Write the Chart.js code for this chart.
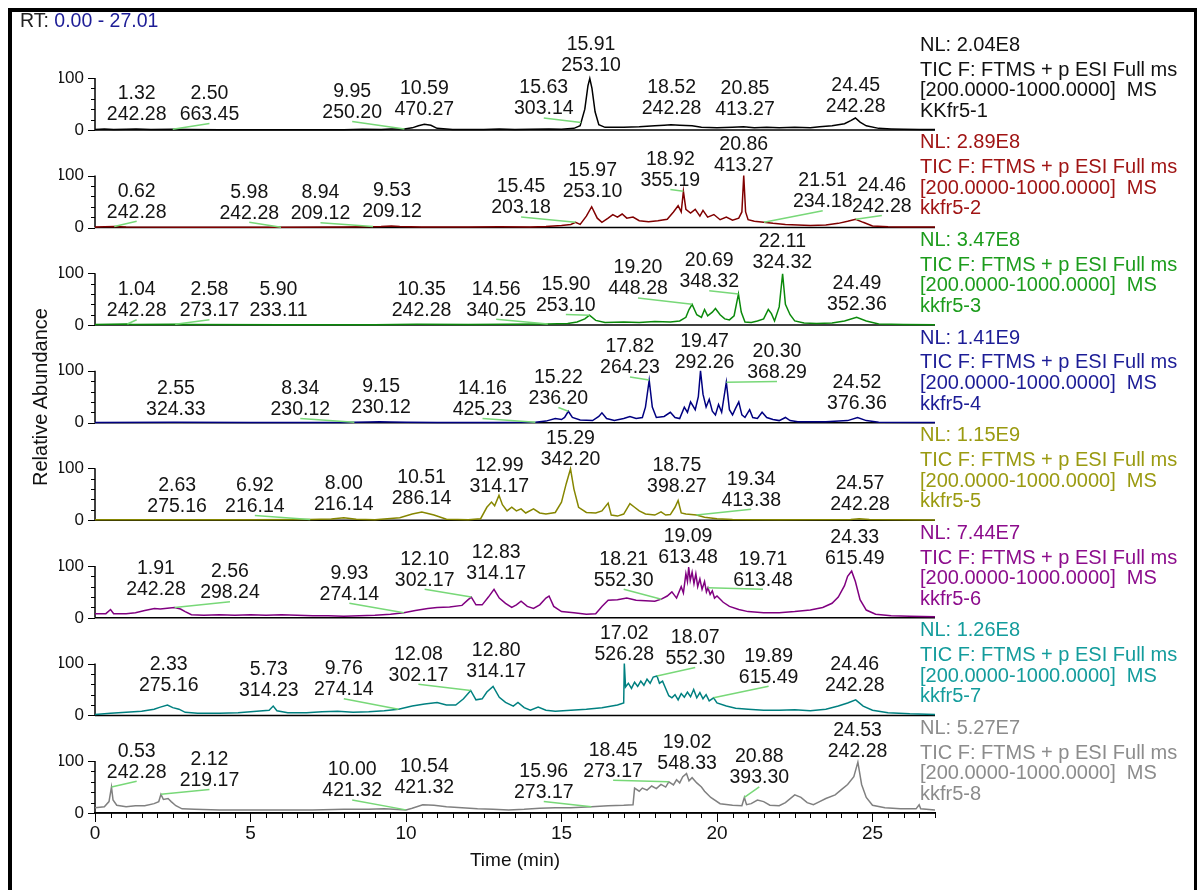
<!DOCTYPE html>
<html>
<head>
<meta charset="utf-8">
<script src="https://cdn.jsdelivr.net/npm/chart.js@4.4.0/dist/chart.umd.min.js"></script>
<style>
body{margin:0;background:#fff;width:1200px;height:890px;overflow:hidden;position:relative;font-family:"Liberation Sans",Arial,sans-serif}
#chart{position:absolute;left:0;top:0}
#frame{position:absolute;left:8px;top:8px;width:1182px;height:900px;border-top:4px solid #000;border-left:4px solid #000;border-right:3px solid #000}
#rt{position:absolute;left:20px;top:9px;font-size:19.5px;color:#222;white-space:nowrap}
#rt span{color:#1c1c96}
.info{position:absolute;left:920px;font-size:20px;line-height:20.6px;white-space:nowrap}
.info .nl{margin-bottom:4.4px}
#ytitle{position:absolute;left:40px;top:397px;transform:translate(-50%,-50%) rotate(-90deg);font-size:20px;color:#111;white-space:nowrap}
</style>
</head>
<body>
<canvas id="chart" width="1200" height="890"></canvas>
<div id="frame"></div>
<div id="rt">RT: <span>0.00 - 27.01</span></div>
<div id="ytitle">Relative Abundance</div>
<div id="info"></div>
<script>
// 各サンプルのTIC（時間[min], 相対強度）
const kkfr5_1 = [[0,1],[0.3,2],[0.6,1],[1.0,1.5],[1.32,2],[1.8,1],[2.5,1.5],[3,1],[4,0.5],[6,0.5],[8,0.5],[8.6,1.5],[9.2,1],[9.5,2],[9.95,2],[10.2,4],[10.4,8],[10.59,11],[10.8,9],[11.0,3],[11.5,1],[12.5,1],[13,2],[13.5,1],[14,1.5],[14.6,2],[15,1.5],[15.4,3],[15.6,8],[15.75,40],[15.85,85],[15.91,99],[15.98,80],[16.08,35],[16.2,10],[16.4,5],[17,5],[17.5,6],[18,8],[18.3,9],[18.52,10],[18.8,9],[19.2,8],[19.5,5],[20,4],[20.5,5],[20.85,6],[21.2,4],[21.6,5],[22,4],[22.5,5],[23,4],[23.3,6],[23.7,8],[24.1,12],[24.3,18],[24.45,23],[24.6,15],[24.8,8],[25.2,3],[25.6,2],[26,1.5],[26.5,1],[27.01,1]];
const kkfr5_2 = [[0,1],[0.62,2],[1,1],[3,0.5],[6,0.5],[8,1],[9.2,2],[9.53,3],[9.8,2],[10.5,1],[12,1],[13,1.5],[14,1],[14.5,2],[15,4],[15.3,6],[15.45,10],[15.6,6],[15.8,22],[15.97,40],[16.15,18],[16.3,10],[16.5,18],[16.65,25],[16.8,20],[16.95,26],[17.1,18],[17.3,20],[17.5,13],[17.8,11],[18.1,13],[18.4,16],[18.6,30],[18.75,42],[18.85,30],[18.92,70],[19.0,35],[19.15,28],[19.3,35],[19.45,22],[19.55,33],[19.7,20],[19.9,25],[20.1,15],[20.3,20],[20.5,14],[20.7,18],[20.8,30],[20.86,100],[20.92,30],[21.0,15],[21.2,12],[21.5,10],[21.8,8],[22.2,6],[22.6,5],[23,4],[23.5,5],[23.9,8],[24.2,12],[24.46,16],[24.7,10],[25,3],[25.5,1.5],[26,1],[27.01,1]];
const kkfr5_3 = [[0,1],[1.04,2],[1.2,1],[2.58,1.5],[3,1],[6,0.5],[9,0.5],[10.35,1.5],[12,1],[14.56,2],[15.2,3],[15.5,6],[15.75,12],[15.9,19],[16.1,9],[16.4,5],[17,6],[17.5,5],[18,7],[18.5,6],[18.8,8],[19.0,15],[19.1,30],[19.2,40],[19.35,20],[19.5,15],[19.6,30],[19.7,18],[19.85,25],[19.95,32],[20.1,20],[20.25,12],[20.4,10],[20.55,18],[20.69,60],[20.78,25],[20.9,6],[21.1,5],[21.3,8],[21.5,12],[21.65,30],[21.75,22],[21.85,8],[22.0,35],[22.11,99],[22.2,40],[22.35,20],[22.5,8],[22.8,4],[23.2,3],[23.7,4],[24.1,8],[24.49,15],[24.8,8],[25.2,2],[26,1],[27.01,0.5]];
const kkfr5_4 = [[0,0.5],[2.55,1],[5,0.5],[8,0.5],[8.34,1],[8.8,1.5],[9.15,2],[9.5,1.5],[10,1],[11,0.5],[13,0.5],[14.16,1],[14.5,3],[14.8,8],[15.0,6],[15.1,10],[15.22,22],[15.35,10],[15.6,5],[16.0,4],[16.2,12],[16.3,19],[16.45,8],[16.7,4],[17.0,8],[17.2,12],[17.4,8],[17.6,10],[17.7,30],[17.82,82],[17.92,30],[18.05,10],[18.3,12],[18.5,20],[18.65,10],[18.8,8],[18.95,30],[19.05,20],[19.15,40],[19.3,25],[19.4,50],[19.47,100],[19.55,55],[19.65,30],[19.75,45],[19.85,22],[19.95,15],[20.05,35],[20.15,20],[20.3,78],[20.4,25],[20.5,15],[20.6,28],[20.7,40],[20.8,15],[20.9,10],[21.05,25],[21.15,10],[21.3,8],[21.45,20],[21.6,10],[21.8,6],[22.0,4],[22.2,10],[22.35,4],[22.6,2],[23,2],[23.5,2],[24.2,4],[24.52,10],[24.8,4],[25.2,1],[27.01,0.5]];
const kkfr5_5 = [[0,1],[2.63,1],[5,1],[6.92,1.5],[7.6,2.5],[8.0,5],[8.4,2],[9,1],[9.8,5],[10.2,12],[10.51,16],[10.9,10],[11.3,2],[12,1],[12.4,3],[12.6,25],[12.75,35],[12.85,28],[12.99,48],[13.1,30],[13.25,18],[13.4,25],[13.55,18],[13.7,22],[13.85,14],[14.1,22],[14.3,14],[14.5,12],[14.8,15],[15.0,35],[15.15,70],[15.29,99],[15.4,60],[15.55,25],[15.8,15],[16.1,14],[16.3,18],[16.5,33],[16.6,10],[16.8,8],[17.0,12],[17.2,32],[17.35,25],[17.5,18],[17.7,12],[18.0,10],[18.2,16],[18.35,10],[18.5,11],[18.65,25],[18.75,38],[18.85,14],[19.0,12],[19.34,10],[19.6,6],[20,3],[20.5,1.5],[22,1],[24.3,1.5],[24.57,3],[24.9,1.5],[27.01,0.5]];
const kkfr5_6 = [[0,8],[0.35,8],[0.5,16],[0.6,8],[1.0,8],[1.3,10],[1.6,14],[1.91,18],[2.1,17],[2.4,19],[2.56,20],[2.75,17],[2.9,12],[3.1,6],[3.5,5],[4,6],[4.5,5],[5,6],[5.5,5],[6,6],[6.5,5],[7,4],[7.5,4],[8,3],[8.5,4],[9,5],[9.5,7],[9.93,10],[10.3,14],[10.7,18],[11.0,20],[11.4,21],[11.8,24],[12.0,35],[12.1,40],[12.25,25],[12.45,25],[12.65,40],[12.83,55],[13.0,38],[13.2,28],[13.4,20],[13.55,25],[13.7,32],[13.9,22],[14.1,18],[14.3,25],[14.5,38],[14.6,42],[14.75,22],[15.0,12],[15.4,10],[15.8,7],[16.1,8],[16.3,22],[16.5,34],[16.8,35],[17.1,38],[17.4,34],[17.7,33],[18.0,32],[18.21,36],[18.4,42],[18.55,50],[18.7,38],[18.85,60],[18.92,48],[19.0,85],[19.05,70],[19.09,98],[19.14,72],[19.2,88],[19.26,66],[19.32,85],[19.38,60],[19.45,75],[19.52,55],[19.6,70],[19.66,50],[19.71,58],[19.78,45],[19.85,52],[19.92,38],[20.0,42],[20.2,30],[20.4,22],[20.7,16],[21.0,12],[21.5,10],[22,10],[22.5,12],[23.0,15],[23.4,20],[23.7,28],[23.9,40],[24.1,62],[24.2,80],[24.33,90],[24.45,70],[24.6,35],[24.8,15],[25.1,7],[25.6,4],[26.2,3],[27.01,2]];
const kkfr5_7 = [[0,2],[0.5,4],[1.0,6],[1.5,8],[1.9,12],[2.1,16],[2.33,20],[2.5,15],[2.7,12],[2.9,6],[3.3,4],[4,4],[4.6,5],[5.2,8],[5.6,10],[5.73,18],[5.85,9],[6.2,5],[6.8,5],[7.3,7],[7.8,8],[8.3,6],[8.8,7],[9.3,9],[9.76,12],[10.2,18],[10.6,22],[11.0,25],[11.3,20],[11.6,20],[11.85,32],[12.08,48],[12.25,30],[12.45,32],[12.6,45],[12.8,56],[13.0,35],[13.2,25],[13.45,18],[13.6,25],[13.8,15],[14.0,10],[14.25,16],[14.5,10],[14.8,8],[15.3,10],[15.8,12],[16.3,15],[16.8,20],[17.0,24],[17.02,100],[17.06,55],[17.15,62],[17.25,52],[17.35,64],[17.45,56],[17.55,66],[17.65,58],[17.75,70],[17.85,62],[17.95,74],[18.07,76],[18.15,62],[18.25,66],[18.35,52],[18.45,38],[18.55,34],[18.65,40],[18.75,30],[18.85,42],[18.95,35],[19.05,45],[19.15,36],[19.25,50],[19.35,34],[19.45,44],[19.55,32],[19.65,40],[19.75,28],[19.89,34],[20.0,24],[20.3,18],[20.6,14],[21.0,12],[21.5,10],[22,10],[22.5,11],[23,9],[23.5,12],[23.9,18],[24.2,24],[24.46,30],[24.7,18],[25,10],[25.5,5],[26.2,3],[27.01,2]];
const kkfr5_8 = [[0,10],[0.3,12],[0.45,22],[0.53,50],[0.58,25],[0.7,15],[1.0,12],[1.3,14],[1.6,14],[1.9,18],[2.05,22],[2.12,36],[2.2,26],[2.35,28],[2.45,22],[2.6,14],[2.8,8],[3.2,7],[4,6],[5,6],[6,6],[7,6],[8,7],[8.8,7],[9.3,8],[9.6,7],[10.0,6],[10.2,9],[10.54,16],[10.9,15],[11.3,12],[11.8,10],[12.3,8],[12.8,7],[13.3,6],[13.8,7],[14.3,9],[14.8,10],[15.3,10],[15.96,12],[16.5,14],[17.0,15],[17.3,16],[17.35,48],[17.5,42],[17.6,48],[17.75,44],[17.9,52],[18.05,47],[18.2,55],[18.35,50],[18.45,60],[18.6,54],[18.7,64],[18.8,58],[18.9,70],[19.02,76],[19.1,62],[19.2,68],[19.35,58],[19.5,50],[19.6,42],[19.8,30],[20.1,18],[20.5,15],[20.8,14],[20.88,30],[20.95,16],[21.1,18],[21.3,25],[21.5,22],[21.7,15],[22.0,14],[22.2,20],[22.5,35],[22.7,30],[22.9,20],[23.1,16],[23.3,22],[23.5,28],[23.8,35],[24.0,45],[24.2,55],[24.4,70],[24.53,98],[24.65,55],[24.8,30],[25.0,15],[25.4,10],[25.9,8],[26.4,8],[26.5,16],[26.55,8],[27.01,6]];

const traces = [kkfr5_1, kkfr5_2, kkfr5_3, kkfr5_4, kkfr5_5, kkfr5_6, kkfr5_7, kkfr5_8];
const sampleNames = ['KKfr5-1','kkfr5-2','kkfr5-3','kkfr5-4','kkfr5-5','kkfr5-6','kkfr5-7','kkfr5-8'];
const nlValues = ['2.04E8','2.89E8','3.47E8','1.41E9','1.15E9','7.44E7','1.26E8','5.27E7'];
const scanFilter = 'TIC F: FTMS + p ESI Full ms';
const massRange = '[200.0000-1000.0000]&nbsp; MS';

// ピークラベル（保持時間とm/z）
const peakRts = [
  [1.32, 2.50, 9.95, 10.59, 15.63, 15.91, 18.52, 20.85, 24.45],
  [0.62, 5.98, 8.94, 9.53, 15.45, 15.97, 18.92, 20.86, 21.51, 24.46],
  [1.04, 2.58, 5.90, 10.35, 14.56, 15.90, 19.20, 20.69, 22.11, 24.49],
  [2.55, 8.34, 9.15, 14.16, 15.22, 17.82, 19.47, 20.30, 24.52],
  [2.63, 6.92, 8.00, 10.51, 12.99, 15.29, 18.75, 19.34, 24.57],
  [1.91, 2.56, 9.93, 12.10, 12.83, 18.21, 19.09, 19.71, 24.33],
  [2.33, 5.73, 9.76, 12.08, 12.80, 17.02, 18.07, 19.89, 24.46],
  [0.53, 2.12, 10.00, 10.54, 15.96, 18.45, 19.02, 20.88, 24.53]
];
const peakMzs = [
  ['242.28','663.45','250.20','470.27','303.14','253.10','242.28','413.27','242.28'],
  ['242.28','242.28','209.12','209.12','203.18','253.10','355.19','413.27','234.18','242.28'],
  ['242.28','273.17','233.11','242.28','340.25','253.10','448.28','348.32','324.32','352.36'],
  ['324.33','230.12','230.12','425.23','236.20','264.23','292.26','368.29','376.36'],
  ['275.16','216.14','216.14','286.14','314.17','342.20','398.27','413.38','242.28'],
  ['242.28','298.24','274.14','302.17','314.17','552.30','613.48','613.48','615.49'],
  ['275.16','314.23','274.14','302.17','314.17','526.28','552.30','615.49','242.28'],
  ['242.28','219.17','421.32','421.32','273.17','273.17','548.33','393.30','242.28']
];

// ラベルの置き場所（x: 分, y: 上段の中心の相対強度）
const labelXs = [
  [1.34, 3.68, 8.27, 10.59, 14.43, 15.95, 18.54, 20.9, 24.46],
  [1.34, 4.96, 7.25, 9.55, 13.7, 16.0, 18.5, 20.86, 23.4, 25.3],
  [1.34, 3.68, 5.9, 10.5, 12.9, 15.14, 17.46, 19.75, 22.1, 24.5],
  [2.6, 6.6, 9.2, 12.46, 14.9, 17.2, 19.6, 21.93, 24.5],
  [2.64, 5.14, 8.0, 10.5, 13.0, 15.29, 18.71, 21.1, 24.6],
  [1.96, 4.34, 8.18, 10.6, 12.9, 17.0, 19.07, 21.48, 24.43],
  [2.37, 5.59, 8.0, 10.4, 12.9, 17.02, 19.3, 21.66, 24.43],
  [1.34, 3.68, 8.27, 10.59, 14.43, 16.66, 19.04, 21.36, 24.52]
];
const labelYs = [
  [70, 70, 74, 80, 81, 164, 81, 80, 86],
  [70, 68, 67, 72, 78, 110, 131, 160, 90, 81],
  [68, 68, 68, 69, 69, 78, 110, 124, 160, 79],
  [66, 66, 69, 66, 87, 146, 156, 137, 78],
  [67, 67, 70, 82, 105, 158, 105, 79, 70],
  [95, 89, 86, 113, 125, 113, 156, 113, 154],
  [98, 88, 90, 118, 125, 158, 150, 114, 97],
  [119, 103, 83, 89, 80, 121, 136, 108, 158]
];

const traceColors = ['#000000','#800000','#0b8a0b','#000080','#868600','#800080','#008080','#808080'];
const textColors = ['#111111','#a01414','#1c9c1c','#1c1c96','#9a9a10','#8c0c8c','#139c9c','#8c8c8c'];

// 右側の説明テキスト
let html = '';
for (let i = 0; i < 8; i++) {
  html += '<div class="info" style="top:' + (33.7 + 97.6 * i) + 'px;color:' + textColors[i] + '">' +
    '<div class="nl">NL: ' + nlValues[i] + '</div>' +
    '<div>' + scanFilter + '</div><div>' + massRange + '</div><div>' + sampleNames[i] + '</div></div>';
}
document.getElementById('info').innerHTML = html;

function valueAt(trace, t) {
  for (let k = 1; k < trace.length; k++) {
    if (trace[k][0] >= t) {
      const a = trace[k - 1], b = trace[k];
      return a[1] + (b[1] - a[1]) * (t - a[0]) / (b[0] - a[0]);
    }
  }
  return trace[trace.length - 1][1];
}

const scales = {
  x: {
    type: 'linear', min: 0, max: 27.01, position: 'bottom',
    afterBuildTicks: s => { s.ticks = []; for (let k = 0; k <= 54; k++) s.ticks.push({value: k / 2}); },
    afterFit: s => { s.height = 60; },
    grid: {display: false, drawTicks: false},
    border: {display: true, color: '#000', width: 1.5},
    ticks: {autoSkip: false, maxRotation: 0, padding: 9, color: '#111', font: {size: 19, family: 'Liberation Sans'},
      callback: v => (v % 5 === 0 ? String(v) : '')},
    title: {display: true, text: 'Time (min)', color: '#111', font: {size: 19, family: 'Liberation Sans'}, padding: {top: 4, bottom: 1}}
  }
};
for (let i = 0; i < 8; i++) {
  scales['y' + (i + 1)] = {
    type: 'linear', position: 'left', stack: 'panels', weight: 8 - i,
    stackWeight: i === 7 ? 180 : 188, min: i === 7 ? 0 : -8, max: 180,
    afterBuildTicks: s => { s.ticks = [0, 20, 40, 60, 80, 100].map(v => ({value: v})); },
    afterFit: s => { s.width = 36; },
    grid: {display: false, drawTicks: false},
    border: {display: false},
    ticks: {autoSkip: false, padding: 11, color: '#111', font: {size: 17, family: 'Liberation Sans'},
      callback: v => (v === 0 || v === 100 ? String(v) : '')}
  };
}

const chromPlugin = {
  id: 'chrom',
  beforeDatasetsDraw(chart) {
    const ctx = chart.ctx, area = chart.chartArea, xs = chart.scales.x;
    ctx.save();
    ctx.strokeStyle = '#000';
    for (let i = 0; i < 8; i++) {
      const ys = chart.scales['y' + (i + 1)];
      const y0 = ys.getPixelForValue(0), y100 = ys.getPixelForValue(100);
      ctx.lineWidth = 1.5;
      ctx.beginPath(); ctx.moveTo(area.left, y0); ctx.lineTo(area.right, y0); ctx.stroke();
      ctx.beginPath(); ctx.moveTo(area.left, y0); ctx.lineTo(area.left, y100); ctx.stroke();
      ctx.lineWidth = 1;
      [0, 20, 40, 60, 80, 100].forEach(v => {
        const len = (v === 0 || v === 100) ? 7 : 4;
        const py = Math.round(ys.getPixelForValue(v)) + 0.5;
        ctx.beginPath(); ctx.moveTo(area.left - len, py); ctx.lineTo(area.left, py); ctx.stroke();
      });
    }
    // x軸の目盛り
    ctx.lineWidth = 1;
    for (let k = 0; k <= 54; k++) {
      const v = k / 2;
      const px = Math.round(xs.getPixelForValue(v)) + 0.5;
      const len = v % 5 === 0 ? 9 : 5;
      ctx.beginPath(); ctx.moveTo(px, area.bottom); ctx.lineTo(px, area.bottom + len); ctx.stroke();
    }
    ctx.restore();
  },
  afterDatasetsDraw(chart) {
    const ctx = chart.ctx, xs = chart.scales.x;
    ctx.save();
    // 引き出し線
    ctx.strokeStyle = '#78d878';
    ctx.lineWidth = 1.5;
    for (let i = 0; i < 8; i++) {
      const ys = chart.scales['y' + (i + 1)];
      peakRts[i].forEach((rt, j) => {
        if (Math.abs(labelXs[i][j] - rt) > 0.25) {
          const lx = xs.getPixelForValue(labelXs[i][j]);
          const ly = ys.getPixelForValue(labelYs[i][j]) + 30;
          const px = xs.getPixelForValue(rt);
          const py = ys.getPixelForValue(valueAt(traces[i], rt));
          ctx.beginPath(); ctx.moveTo(px, py); ctx.lineTo(lx, ly); ctx.stroke();
        }
      });
    }
    // ラベル
    ctx.fillStyle = '#141414';
    ctx.font = '19.5px "Liberation Sans", Arial, sans-serif';
    ctx.textAlign = 'center';
    ctx.textBaseline = 'middle';
    for (let i = 0; i < 8; i++) {
      const ys = chart.scales['y' + (i + 1)];
      peakRts[i].forEach((rt, j) => {
        const lx = xs.getPixelForValue(labelXs[i][j]);
        const ly = ys.getPixelForValue(labelYs[i][j]);
        ctx.fillText(rt.toFixed(2), lx, ly);
        ctx.fillText(peakMzs[i][j], lx, ly + 21);
      });
    }
    ctx.restore();
  }
};

new Chart(document.getElementById('chart'), {
  type: 'line',
  data: {
    datasets: traces.map((t, i) => ({
      label: sampleNames[i],
      data: t.map(p => ({x: p[0], y: p[1]})),
      yAxisID: 'y' + (i + 1),
      borderColor: traceColors[i],
      borderWidth: 1.5,
      pointRadius: 0,
      tension: 0,
      fill: false
    }))
  },
  options: {
    responsive: false,
    animation: false,
    devicePixelRatio: 1,
    layout: {padding: {left: 59, right: 265, top: 36.5, bottom: 17}},
    plugins: {legend: {display: false}, tooltip: {enabled: false}},
    scales: scales
  },
  plugins: [chromPlugin]
});
</script>
</body>
</html>
